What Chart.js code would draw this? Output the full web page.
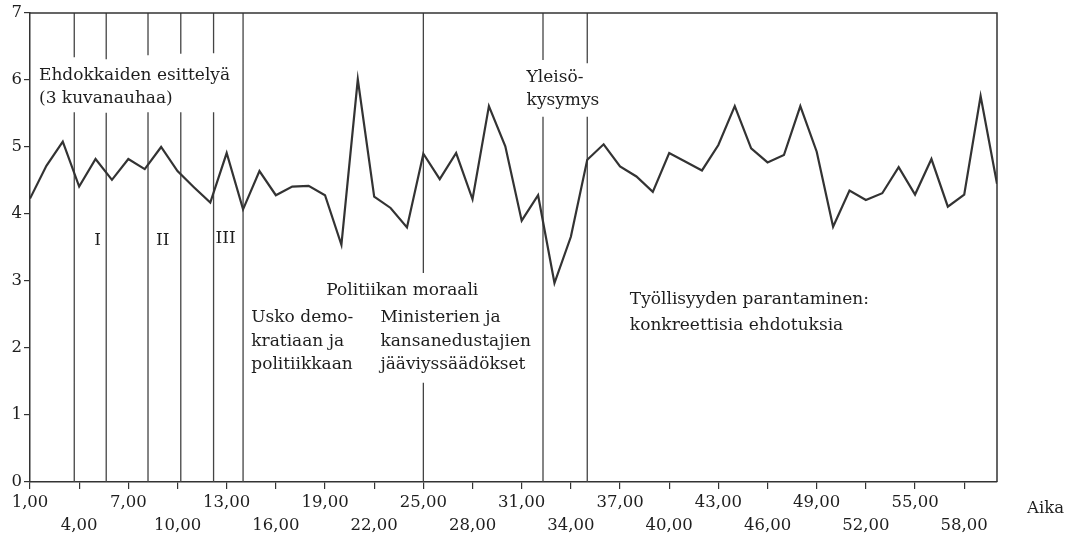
<!DOCTYPE html>
<html><head><meta charset="utf-8">
<script src="https://cdn.jsdelivr.net/npm/chart.js@4.4.0/dist/chart.umd.min.js"></script>
<style>html,body{margin:0;padding:0;background:#fff;}#wrap{width:1075px;height:539px;}</style>
</head><body><div id="wrap"><canvas id="c" width="1075" height="539"></canvas></div>
<script>
// ---- data ----
const times = [1,2,3,4,5,6,7,8,9,10,11,12,13,14,15,16,17,18,19,20,21,22,23,24,25,26,27,28,29,30,31,32,33,34,35,36,37,38,39,40,41,42,43,44,45,46,47,48,49,50,51,52,53,54,55,56,57,58,59,60];
const ratings = [4.23,4.72,5.08,4.41,4.82,4.51,4.82,4.67,5.00,4.64,4.40,4.17,4.91,4.07,4.64,4.28,4.41,4.42,4.28,3.54,6.01,4.26,4.09,3.80,4.90,4.52,4.91,4.22,5.61,5.01,3.90,4.28,2.97,3.66,4.81,5.04,4.71,4.56,4.33,4.91,4.78,4.65,5.03,5.61,4.98,4.77,4.88,5.61,4.93,3.81,4.35,4.21,4.31,4.70,4.29,4.82,4.11,4.29,5.76,4.45];
const xTickValues = [1,4,7,10,13,16,19,22,25,28,31,34,37,40,43,46,49,52,55,58];
const xTickLabels = ['1,00','4,00','7,00','10,00','13,00','16,00','19,00','22,00','25,00','28,00','31,00','34,00','37,00','40,00','43,00','46,00','49,00','52,00','55,00','58,00'];
const yTickLabels = ['0','1','2','3','4','5','6','7'];
const dividerX = [3.7,5.65,8.2,10.2,12.2,14.0,25.0,32.3,35.0];
const dividerGapFrom = [5.52,5.51,5.52,5.52,5.52,null,1.48,5.45,5.45];
const dividerGapTo = [6.34,6.31,6.37,6.39,6.40,null,3.12,6.30,6.25];
const noteText = ['Ehdokkaiden esittelyä','(3 kuvanauhaa)','I','II','III','Politiikan moraali','Usko demo-','kratiaan ja','politiikkaan','Ministerien ja','kansanedustajien','jääviyssäädökset','Yleisö-','kysymys','Työllisyyden parantaminen:','konkreettisia ehdotuksia'];
const noteX = [1.55,1.55,5.12,9.1,12.93,19.08,14.5,14.5,14.5,22.38,22.38,22.38,31.3,31.3,37.6,37.6];
const noteY = [6.07,5.72,3.61,3.61,3.64,2.85,2.46,2.10,1.75,2.46,2.10,1.75,6.03,5.69,2.73,2.34];
const noteAlign = ['left','left','center','center','center','left','left','left','left','left','left','left','left','left','left','left'];
const xAxisTitle = 'Aika';

const FONT = 'DejaVu Serif';
const INK = '#1e1e1e';

const lineData = times.map((t,i)=>({x:t,y:ratings[i]}));
const dividerData = [];
dividerX.forEach((x,i)=>{
  dividerData.push({x:x,y:0});
  if (dividerGapFrom[i] !== null) {
    dividerData.push({x:x,y:dividerGapFrom[i]});
    dividerData.push({x:x,y:null});
    dividerData.push({x:x,y:dividerGapTo[i]});
  }
  dividerData.push({x:x,y:7});
  dividerData.push({x:x,y:null});
});

const notesPlugin = {
  id:'notes',
  afterDraw(chart){
    const ctx = chart.ctx, xs = chart.scales.x, ys = chart.scales.y, ca = chart.chartArea;
    ctx.save();
    ctx.strokeStyle = '#333'; ctx.lineWidth = 1.5;
    ctx.beginPath();
    ctx.moveTo(ca.left, ca.top); ctx.lineTo(ca.right, ca.top); ctx.lineTo(ca.right, ca.bottom);
    ctx.stroke();
    ctx.fillStyle = INK;
    ctx.font = '17px "' + FONT + '"';
    ctx.textBaseline = 'middle';
    noteText.forEach((t,i)=>{
      ctx.textAlign = noteAlign[i];
      ctx.fillText(t, xs.getPixelForValue(noteX[i]), ys.getPixelForValue(noteY[i]));
    });
    ctx.font = '16.5px "' + FONT + '"';
    ctx.textAlign = 'left';
    ctx.fillText(xAxisTitle, ca.right + 30, ca.bottom + 27);
    ctx.restore();
  }
};

new Chart(document.getElementById('c'), {
  type:'line',
  data:{datasets:[
    {data:lineData, borderColor:'#333', borderWidth:2.2, pointRadius:0, tension:0, borderJoinStyle:'miter', fill:false},
    {data:dividerData, borderColor:'#444', borderWidth:1.3, pointRadius:0, tension:0, spanGaps:false, fill:false}
  ]},
  options:{
    responsive:false, animation:false, devicePixelRatio:1,
    layout:{padding:{left:0,top:13,right:78,bottom:0}},
    plugins:{legend:{display:false}, tooltip:{enabled:false}},
    scales:{
      x:{type:'linear', min:1, max:60,
        afterFit(s){ s.height = 57; },
        afterBuildTicks(s){ s.ticks = xTickValues.map(v=>({value:v})); },
        grid:{drawOnChartArea:false, drawTicks:true, tickLength:7, color:'#333', lineWidth:1.2},
        border:{display:true, color:'#333', width:1.5},
        ticks:{autoSkip:false, maxRotation:0, padding:2, color:INK,
          font:{family:FONT, size:16.5, lineHeight:1.42},
          callback(v,i){ const l = xTickLabels[xTickValues.indexOf(v)]; return i%2===0 ? [l,''] : ['',l]; }}
      },
      y:{type:'linear', min:0, max:7,
        afterFit(s){ s.width = 30; },
        afterBuildTicks(s){ s.ticks = yTickLabels.map(v=>({value:Number(v)})); },
        grid:{drawOnChartArea:false, drawTicks:true, tickLength:6, color:'#333', lineWidth:1.2},
        border:{display:true, color:'#333', width:1.5},
        ticks:{padding:2, color:INK, font:{family:FONT, size:16.5},
          callback(v){ return yTickLabels[v]; }}
      }
    }
  },
  plugins:[notesPlugin]
});
</script></body></html>
